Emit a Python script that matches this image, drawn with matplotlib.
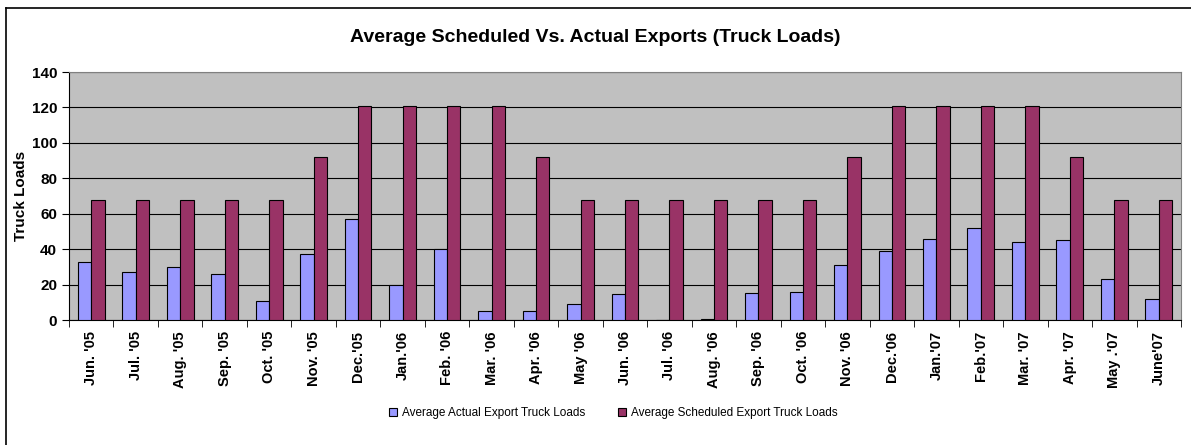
import numpy as np
import matplotlib.pyplot as plt
from matplotlib.lines import Line2D

months = ["Jun. '05", "Jul. '05", "Aug. '05", "Sep. '05", "Oct. '05", "Nov. '05", "Dec.'05",
          "Jan.'06", "Feb. '06", "Mar. '06", "Apr. '06", "May '06", "Jun. '06", "Jul. '06",
          "Aug. '06", "Sep. '06", "Oct. '06", "Nov. '06", "Dec.'06", "Jan.'07", "Feb.'07",
          "Mar. '07", "Apr. '07", "May .'07", "June'07"]
actual = [33, 27, 30, 26, 11, 37, 57, 20, 40, 5, 5, 9, 14.5, 0, 0.7, 15, 16, 31, 39, 46, 52, 44, 45, 23, 12]
scheduled = [68, 68, 68, 68, 68, 92, 121, 121, 121, 121, 92, 68, 68, 68, 68, 68, 68, 92, 121, 121, 121, 121, 92, 68, 68]

plt.rcParams['font.family'] = ['Liberation Sans', 'DejaVu Sans']

fig = plt.figure(figsize=(11.91, 4.45), dpi=100)
# outer chart frame (only top and left edges show in the original)
fig.lines.append(Line2D([6/1191, 1.0], [1-8/445, 1-8/445], transform=fig.transFigure, color='black', lw=1.2))
fig.lines.append(Line2D([6/1191, 6/1191], [0, 1-8/445], transform=fig.transFigure, color='black', lw=1.2))

ax = fig.add_axes([69/1191, 1-320/445, 1112/1191, 248/445])
ax.set_facecolor('#C0C0C0')

x = np.arange(len(months))
w = 0.3
ax.bar(x - w/2, actual, w, color='#9999FF', edgecolor='black', lw=0.8,
       label='Average Actual Export Truck Loads', zorder=3)
ax.bar(x + w/2, scheduled, w, color='#993366', edgecolor='black', lw=0.8,
       label='Average Scheduled Export Truck Loads', zorder=3)

ax.set_xlim(-0.5, len(months) - 0.5)
ax.set_ylim(0, 140)
ax.set_yticks(range(0, 141, 20))
ax.yaxis.grid(True, color='black', lw=0.8, zorder=1)
ax.set_axisbelow(True)
ax.set_xticks(x)
ax.set_xticklabels(months, rotation=90, fontsize=10.5, fontweight='bold')
ax.set_xticks(np.arange(-0.5, len(months), 1), minor=True)
ax.tick_params(axis='x', which='major', length=0, pad=8)
ax.tick_params(axis='x', which='minor', length=5, color='black')
ax.tick_params(axis='y', labelsize=11, length=5)
for lbl in ax.get_yticklabels():
    lbl.set_fontweight('bold')
ax.set_ylabel('Truck Loads', fontsize=11, fontweight='bold', labelpad=3)
for s in ['top', 'right']:
    ax.spines[s].set_color('#808080')
for s in ['left', 'bottom']:
    ax.spines[s].set_color('black')

fig.text(0.5, 1-37/445, 'Average Scheduled Vs. Actual Exports (Truck Loads)', ha='center',
         va='center', fontsize=14, fontweight='bold')
fig.legend(loc='center', bbox_to_anchor=(0.515, 1-413/445), ncol=2, frameon=False, fontsize=8.5,
           handlelength=0.7, handleheight=0.7, columnspacing=2.8, handletextpad=0.4)

fig.savefig('out.png', dpi=100)
